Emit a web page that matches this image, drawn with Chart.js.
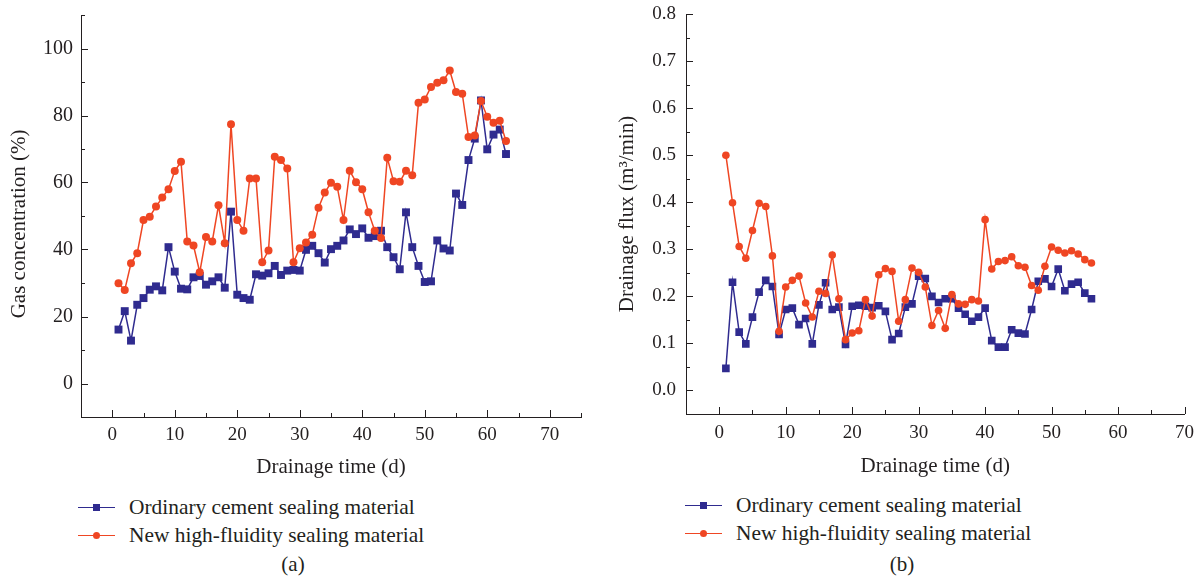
<!DOCTYPE html>
<html>
<head>
<meta charset="utf-8">
<script src="https://cdn.jsdelivr.net/npm/chart.js@4.4.1/dist/chart.umd.min.js"></script>
<style>
  body { margin: 0; background: #fff; font-family: 'Liberation Serif', serif; color: #231f20; }
  #page { position: relative; width: 1202px; height: 586px; overflow: hidden; }
  .box { position: absolute; top: 0; height: 480px; }
  .legend { position: absolute; font-size: 21.4px; line-height: 28px; }
  .item { display: flex; align-items: center; white-space: nowrap; }
  .sample { position: relative; width: 37px; height: 28px; margin-right: 14px; }
  .sample::before { content: ''; position: absolute; left: 0; right: 0; top: 13.5px; height: 1.5px; background: var(--c); }
  .sample i { position: absolute; left: 15px; top: 11px; width: 7px; height: 7px; background: var(--c); }
  .sample.dot i { border-radius: 50%; }
  .caption { position: absolute; top: 552px; font-size: 21px; transform: translateX(-50%); }
</style>
</head>
<body>
<div id="page">
  <div class="box" style="left:0; width:600px;"><canvas id="gasChart"></canvas></div>
  <div class="box" style="left:600px; width:602px;"><canvas id="fluxChart"></canvas></div>

  <div class="legend" style="left:78px; top:493px;">
    <div class="item"><span class="sample" style="--c:#2f2b8f"><i></i></span>Ordinary cement sealing material</div>
    <div class="item"><span class="sample dot" style="--c:#ef4623"><i></i></span>New high-fluidity sealing material</div>
  </div>
  <div class="legend" style="left:685px; top:491px;">
    <div class="item"><span class="sample" style="--c:#2f2b8f"><i></i></span>Ordinary cement sealing material</div>
    <div class="item"><span class="sample dot" style="--c:#ef4623"><i></i></span>New high-fluidity sealing material</div>
  </div>
  <div class="caption" style="left:293px;">(a)</div>
  <div class="caption" style="left:902px;">(b)</div>
</div>

<script>
// (a) gas concentration, days 1-63
const gasDays = [1,2,3,4,5,6,7,8,9,10,11,12,13,14,15,16,17,18,19,20,21,22,23,24,25,26,27,28,29,30,31,32,33,34,35,36,37,38,39,40,41,42,43,44,45,46,47,48,49,50,51,52,53,54,55,56,57,58,59,60,61,62,63];
const gasOrdinary = [16.1,21.6,12.8,23.5,25.5,28.0,29.0,27.8,40.7,33.4,28.3,28.1,31.7,32.1,29.5,30.5,31.7,28.6,51.3,26.5,25.5,25.0,32.6,32.2,32.9,35.1,32.4,33.7,33.9,33.7,39.9,41.1,38.9,36.1,40.1,41.1,42.7,46.0,44.6,46.3,43.5,44.0,45.6,40.7,37.7,34.1,51.1,40.7,35.1,30.3,30.5,42.7,40.3,39.7,56.7,53.3,66.7,73.1,84.5,69.9,74.3,75.8,68.5];
const gasNew = [29.9,27.9,35.9,38.9,48.8,49.8,52.8,55.5,58.0,63.4,66.2,42.4,41.2,33.2,43.7,42.4,53.2,41.9,77.4,48.8,45.6,61.2,61.2,36.2,39.7,67.7,66.7,64.2,36.2,40.4,42.1,44.4,52.5,57.0,59.9,58.7,48.8,63.5,60.1,58.0,51.1,45.6,43.4,67.4,60.4,60.2,63.5,62.2,83.8,84.8,88.5,89.8,90.5,93.4,87.0,86.5,73.6,74.0,84.3,79.6,77.8,78.4,72.4];

// (b) drainage flux, days 1-56
const fluxDays = [1,2,3,4,5,6,7,8,9,10,11,12,13,14,15,16,17,18,19,20,21,22,23,24,25,26,27,28,29,30,31,32,33,34,35,36,37,38,39,40,41,42,43,44,45,46,47,48,49,50,51,52,53,54,55,56];
const fluxOrdinary = [0.047,0.230,0.124,0.099,0.156,0.209,0.234,0.221,0.119,0.172,0.175,0.140,0.153,0.099,0.182,0.229,0.172,0.177,0.098,0.179,0.181,0.179,0.176,0.180,0.168,0.108,0.121,0.177,0.184,0.243,0.238,0.200,0.187,0.195,0.195,0.175,0.162,0.147,0.156,0.175,0.106,0.092,0.092,0.129,0.122,0.120,0.172,0.232,0.237,0.221,0.258,0.212,0.226,0.230,0.207,0.195];
const fluxNew = [0.500,0.399,0.306,0.281,0.340,0.398,0.391,0.286,0.126,0.220,0.234,0.243,0.186,0.156,0.211,0.206,0.288,0.195,0.108,0.122,0.127,0.193,0.158,0.246,0.259,0.253,0.147,0.193,0.260,0.251,0.220,0.138,0.170,0.132,0.204,0.184,0.183,0.193,0.190,0.363,0.258,0.274,0.276,0.284,0.265,0.262,0.223,0.213,0.264,0.305,0.298,0.292,0.297,0.290,0.278,0.271];

const seriesNames = ['Ordinary cement sealing material', 'New high-fluidity sealing material'];

const BLUE = '#2f2b8f';
const RED = '#ef4623';
const AXIS = '#231f20';
const SERIF = "'Liberation Serif', 'Times New Roman', serif";

function isStep(v, step) {
    const r = v / step;
    return Math.abs(r - Math.round(r)) < 1e-6;
}

// ticks in the reference point inward, long on labelled values, short between
const inwardTicks = {
    id: 'inwardTicks',
    beforeDatasetsDraw(chart, args, opts) {
        const {ctx, chartArea, scales} = chart;
        ctx.save();
        ctx.strokeStyle = AXIS;
        ctx.lineWidth = 1;
        scales.x.ticks.forEach(t => {
            if (t.value < 0) return;
            const px = Math.round(scales.x.getPixelForValue(t.value)) + 0.5;
            const len = isStep(t.value, opts.xMajor) ? 7 : 4;
            ctx.beginPath();
            ctx.moveTo(px, chartArea.bottom);
            ctx.lineTo(px, chartArea.bottom - len);
            ctx.stroke();
        });
        scales.y.ticks.forEach(t => {
            const py = Math.round(scales.y.getPixelForValue(t.value)) + 0.5;
            const len = isStep(t.value, opts.yMajor) && t.value >= 0 ? 7 : 4;
            ctx.beginPath();
            ctx.moveTo(chartArea.left, py);
            ctx.lineTo(chartArea.left + len, py);
            ctx.stroke();
        });
        ctx.restore();
    }
};

function toPoints(xs, ys) {
    return xs.map((x, i) => ({ x: x, y: ys[i] }));
}

function makeDatasets(days, ordinary, fresh, sq, dot) {
    return [{
        label: seriesNames[0],
        data: toPoints(days, ordinary),
        borderColor: BLUE,
        backgroundColor: BLUE,
        borderWidth: 1.5,
        pointStyle: 'rect',
        pointRadius: sq,
        pointBorderWidth: 0,
        tension: 0,
        order: 2
    }, {
        label: seriesNames[1],
        data: toPoints(days, fresh),
        borderColor: RED,
        backgroundColor: RED,
        borderWidth: 1.5,
        pointStyle: 'circle',
        pointRadius: dot,
        pointBorderWidth: 0,
        tension: 0,
        order: 1
    }];
}

function makeChart(id, cfg) {
    return new Chart(document.getElementById(id), {
        type: 'line',
        data: { datasets: makeDatasets(cfg.days, cfg.ordinary, cfg.fresh, cfg.sq, cfg.dot) },
        plugins: [inwardTicks],
        options: {
            responsive: true,
            maintainAspectRatio: false,
            animation: false,
            layout: { padding: cfg.padding },
            plugins: {
                legend: { display: false },
                tooltip: { enabled: false },
                inwardTicks: { xMajor: 10, yMajor: cfg.yMajor }
            },
            scales: {
                x: {
                    type: 'linear',
                    min: cfg.xMin, max: cfg.xMax,
                    afterFit: s => { s.height = cfg.xHeight; },
                    border: { display: true, color: AXIS, width: 1 },
                    grid: { display: false, drawTicks: false },
                    ticks: {
                        stepSize: 5,
                        autoSkip: false,
                        maxRotation: 0,
                        padding: cfg.xPad,
                        color: AXIS,
                        font: { family: SERIF, size: 19 },
                        callback: v => (v >= 0 && isStep(v, 10)) ? String(v) : ''
                    },
                    title: {
                        display: true,
                        text: 'Drainage time (d)',
                        color: AXIS,
                        font: { family: SERIF, size: 21 },
                        padding: { top: 0, bottom: cfg.xTitlePad }
                    }
                },
                y: {
                    min: cfg.yMin, max: cfg.yMax,
                    // fixed width, and no extra room for the end labels
                    afterFit: s => { s.width = cfg.yWidth; s.paddingTop = 0; s.paddingBottom = 0; },
                    border: { display: true, color: AXIS, width: 1 },
                    grid: { display: false, drawTicks: false },
                    ticks: {
                        stepSize: cfg.yStep,
                        autoSkip: false,
                        padding: cfg.yPad,
                        color: AXIS,
                        font: { family: SERIF, size: cfg.yFont },
                        callback: cfg.yLabel
                    },
                    title: {
                        display: true,
                        text: cfg.yTitle,
                        color: AXIS,
                        font: { family: SERIF, size: 21 },
                        padding: { top: cfg.yTitlePad, bottom: 0 }
                    }
                }
            }
        }
    });
}

makeChart('gasChart', {
    days: gasDays, ordinary: gasOrdinary, fresh: gasNew, sq: 5.6, dot: 4,
    padding: { left: 0, right: 19, top: 15, bottom: 0 },
    xMin: -5, xMax: 75, xHeight: 63, xPad: 7, xTitlePad: 0,
    yMin: -10, yMax: 110, yStep: 10, yMajor: 20, yWidth: 81, yPad: 8, yFont: 20, yTitlePad: 7,
    yTitle: 'Gas concentration (%)   ',
    yLabel: v => (v >= 0 && v <= 100 && isStep(v, 20)) ? String(v) : ''
});

makeChart('fluxChart', {
    days: fluxDays, ordinary: fluxOrdinary, fresh: fluxNew, sq: 5.4, dot: 3.8,
    padding: { left: 0, right: 16, top: 14, bottom: 0 },
    xMin: -5, xMax: 70, xHeight: 66, xPad: 8, xTitlePad: 1,
    yMin: -0.05, yMax: 0.8, yStep: 0.05, yMajor: 0.1, yWidth: 86, yPad: 10, yFont: 19, yTitlePad: 15,
    yTitle: 'Drainage flux (m\u00b3/min)',
    yLabel: v => (v >= -1e-9 && isStep(v, 0.1)) ? Math.abs(v).toFixed(1) : ''
});
</script>
</body>
</html>
